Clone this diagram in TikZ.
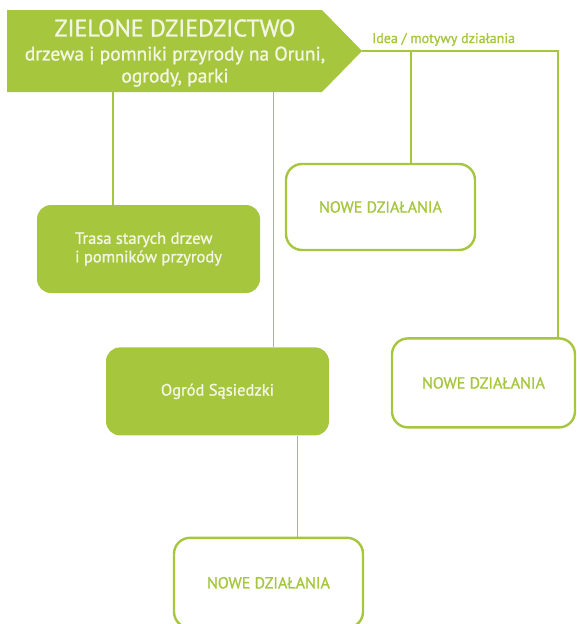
\documentclass[tikz,border=0pt]{standalone}
\usepackage{fontspec}
\setmainfont{PT Sans}[FakeBold=1.2]
\usepackage{tikz}
\usetikzlibrary{positioning}
\definecolor{leaf}{HTML}{A6C63E}
\definecolor{cream}{HTML}{F3F6E4}

\begin{document}
\begin{tikzpicture}[x=1pt, y=-1pt,
    greenbox/.style={rectangle, rounded corners=14pt, fill=leaf, text=cream, minimum width=223pt, minimum height=88pt, align=left, font=\fontsize{16.5}{18.5}\selectfont},
    actbox/.style={rectangle, rounded corners=16pt, draw=leaf, line width=2.4pt, text=leaf, minimum width=189pt, minimum height=86pt, font=\fontsize{16}{18}\selectfont},
    link/.style={draw=leaf, line width=1.7pt}
]
\useasboundingbox (0,0) rectangle (576,624);

% naglowek ze strzalka
\fill[leaf] (7,10) -- (322,10) -- (362,51) -- (322,92) -- (7,92) -- cycle;
\coordinate (tip) at (362,51);
\coordinate (bend) at (558,51);
\node[minimum height=78pt, text=cream, align=center, font=\fontsize{19.5}{22}\selectfont] (head) at (175,53)
    {{\fontsize{24}{26}\selectfont ZIELONE DZIEDZICTWO}\\[2pt]drzewa i pomniki przyrody na Oruni,\\ogrody, parki};
\node[anchor=base west, inner sep=0pt, text=leaf, font=\fontsize{14}{16}\selectfont] (idea) at (372,43) {Idea / motywy działania};

% bloki
\node[greenbox] (trasa) at (148.5,249) {Trasa starych drzew\\i pomników przyrody};
\node[greenbox, below right=54pt and 69pt of trasa.south west] (ogrod) {Ogród Sąsiedzki};
\node[actbox, below right=101pt and 67pt of ogrod.south west, minimum height=90pt] (nowe3) {NOWE DZIAŁANIA};
\node[actbox] (nowe1) at (380.5,207) {NOWE DZIAŁANIA};
\node[actbox, below right=86pt and 106pt of nowe1.south west, minimum width=183pt, minimum height=89pt] (nowe2) {NOWE DZIAŁANIA};

% polaczenia
\coordinate (tr) at ([xshift=-35.5pt]trasa.north);
\coordinate (og) at ([xshift=56pt]ogrod.north);
\coordinate (og2) at ([xshift=80pt]ogrod.south);
\coordinate (n1) at ([xshift=30.5pt]nowe1.north);

\draw[link] (head.south -| tr) -- (tr);
\draw[link] (head.south -| og) -- (og);
\draw[link] (og2) -- (og2 |- nowe3.north);
\draw[link] (tip) -- (bend) -- (bend |- nowe2.north);
\draw[link] (n1 |- tip) -- (n1);
\end{tikzpicture}
\end{document}
